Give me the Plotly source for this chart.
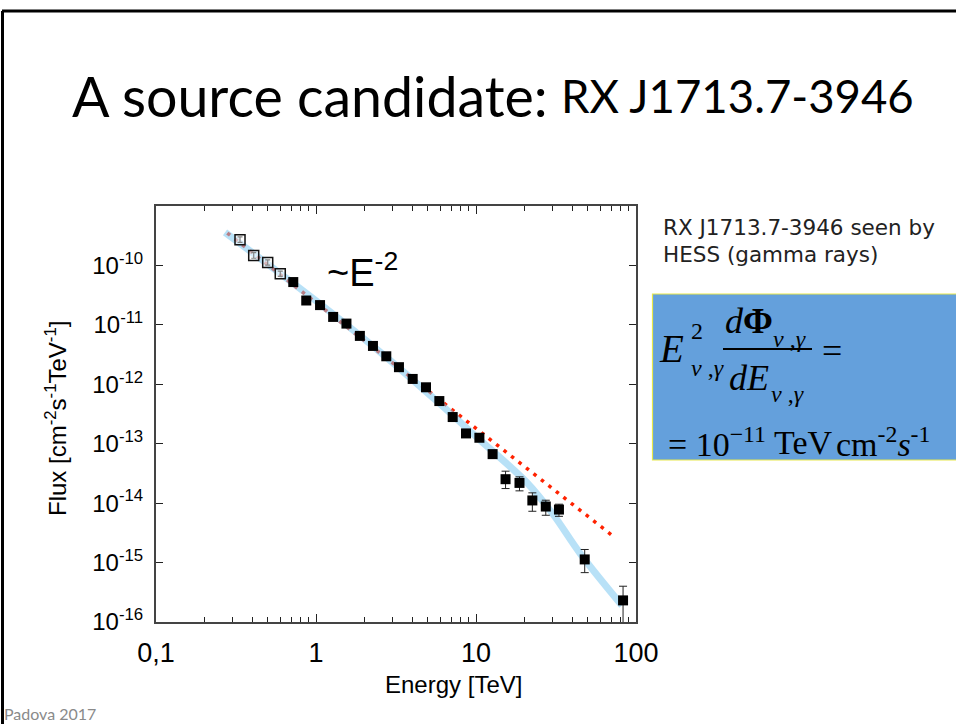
import plotly.graph_objects as go

W, H = 956, 724

# HESS spectrum of RX J1713.7-3946
energy_open = [0.335, 0.408, 0.499, 0.598]
flux_open = [2.71e-10, 1.47e-10, 1.12e-10, 7.25e-11]
flux_open_hi = [3.02e-10, 1.64e-10, 1.24e-10, 8.0e-11]
flux_open_lo = [2.44e-10, 1.32e-10, 1.01e-10, 6.55e-11]

energy = [0.721, 0.869, 1.06, 1.28, 1.55, 1.88, 2.27, 2.75, 3.30, 4.02, 4.87, 5.90,
          7.15, 8.66, 10.5, 12.7, 15.3, 18.7, 22.5, 27.3, 33.0, 47.8, 83.0]
flux = [5.25e-11, 2.57e-11, 2.15e-11, 1.36e-11, 1.05e-11, 6.52e-12, 4.42e-12, 2.96e-12,
        1.94e-12, 1.23e-12, 8.9e-13, 5.22e-13, 2.81e-13, 1.49e-13, 1.26e-13, 6.68e-14,
        2.53e-14, 2.19e-14, 1.11e-14, 8.77e-15, 7.8e-15, 1.13e-15, 2.31e-16]
flux_hi = [5.6e-11, 2.75e-11, 2.3e-11, 1.45e-11, 1.12e-11, 6.95e-12, 4.7e-12, 3.15e-12,
           2.07e-12, 1.31e-12, 9.5e-13, 5.6e-13, 3.02e-13, 1.62e-13, 1.38e-13, 7.4e-14,
           3.45e-14, 2.77e-14, 1.49e-14, 1.12e-14, 9.6e-15, 1.66e-15, 4.0e-16]
flux_lo = [4.9e-11, 2.4e-11, 2.0e-11, 1.27e-11, 9.8e-12, 6.1e-12, 4.15e-12, 2.78e-12,
           1.82e-12, 1.15e-12, 8.3e-13, 4.86e-13, 2.6e-13, 1.37e-13, 1.15e-13, 6.0e-14,
           1.76e-14, 1.61e-14, 7.3e-15, 6.25e-15, 6.0e-15, 6.77e-16, 6.0e-17]

# E^-2 reference line
line_e2_energy = [0.279, 73.1]
line_e2_flux = [3.51e-10, 2.69e-15]

# fitted spectrum with cutoff
fit_energy = [0.270, 1.0, 2.74, 5.96, 10.1, 20.7, 30.3, 44.7, 81.7]
fit_flux = [3.6e-10, 2.54e-11, 2.88e-12, 4.66e-13, 1.29e-13, 2.25e-14, 6.5e-15, 1.43e-15, 1.9e-16]

x_ticks = [0.1, 1, 10, 100]
x_ticklabels = ["0,1", "1", "10", "100"]
y_ticks = [1e-16, 1e-15, 1e-14, 1e-13, 1e-12, 1e-11, 1e-10]
y_ticklabels = ["10<sup>-16</sup>", "10<sup>-15</sup>", "10<sup>-14</sup>", "10<sup>-13</sup>",
                "10<sup>-12</sup>", "10<sup>-11</sup>", "10<sup>-10</sup>"]
x_minor = [m * 10 ** d for d in (-1, 0, 1) for m in range(2, 10)]


def px(x):
    return x / W


def py(y):
    return 1 - y / H


def err_up(f, hi):
    return [h - v for v, h in zip(f, hi)]


def err_dn(f, lo):
    return [v - l for v, l in zip(f, lo)]


fig = go.Figure()

fig.add_trace(go.Scatter(
    x=line_e2_energy, y=line_e2_flux, mode="lines",
    line=dict(color="#ff2200", width=3.5, dash="3.5px,6px"), hoverinfo="skip"))

fig.add_trace(go.Scatter(
    x=fit_energy, y=fit_flux, mode="lines", line_shape="spline",
    line=dict(color="rgba(125,200,240,0.55)", width=7), hoverinfo="skip"))

fig.add_trace(go.Scatter(
    x=energy_open, y=flux_open, mode="markers",
    marker=dict(symbol="square", size=10, color="rgba(255,255,255,0.45)",
                line=dict(color="#111", width=1.5)),
    error_y=dict(type="data", array=err_up(flux_open, flux_open_hi),
                 arrayminus=err_dn(flux_open, flux_open_lo),
                 color="#222", thickness=1.2, width=2.5)))

fig.add_trace(go.Scatter(
    x=energy, y=flux, mode="markers",
    marker=dict(symbol="square", size=10, color="black", line=dict(width=0)),
    error_y=dict(type="data", array=err_up(flux, flux_hi),
                 arrayminus=err_dn(flux, flux_lo),
                 color="#222", thickness=1, width=4)))

ann = []


def text(x, y, s, size, family="Liberation Sans", color="black", xanchor="left",
         yanchor="middle", angle=0):
    ann.append(dict(x=px(x), y=py(y), xref="paper", yref="paper", text=s, showarrow=False,
                    xanchor=xanchor, yanchor=yanchor, textangle=angle,
                    font=dict(size=size, family=family, color=color)))


# slide title and side notes
text(70, 95, "A source candidate:", 55.5, family="Lato")
text(559, 95, "RX J1713.7-3946", 45.5, family="Lato")
text(661, 228, "RX J1713.7-3946 seen by", 21.5, family="DejaVu Sans", color="#222")
text(661, 254, "HESS (gamma rays)", 21.5, family="DejaVu Sans", color="#222")
text(2, 713, "Padova 2017", 16, family="Lato", color="#8a8a8a")

# axis titles and slope label
text(453, 684, "Energy [TeV]", 24, xanchor="center")
text(56, 419, "Flux [cm<sup>-2</sup>s<sup>-1</sup>TeV<sup>-1</sup>]", 24, xanchor="center", angle=-90)
text(325, 270, "~E<sup>-2</sup>", 38)

# formula box contents
serif = "Liberation Serif"
text(657, 348, "<i>E</i>", 39, family=serif)
text(689, 331, "2", 24, family=serif)
text(689, 368, "<i>ν</i> ,<i>γ</i>", 24, family=serif)
text(723, 321, "<i>d</i><b>Φ</b>", 36, family=serif)
text(771, 339, "<i>ν</i> ,<i>γ</i>", 24, family=serif)
text(727, 378, "<i>dE</i>", 36, family=serif)
text(769, 394, "<i>ν</i> ,<i>γ</i>", 24, family=serif)
text(820, 351, "=", 36, family=serif)
text(666, 442, "= 10<sup>−11</sup>", 34, family=serif)
text(772, 442, "TeV", 34, family=serif)
text(834, 442, "cm<sup>-2</sup><i>s</i><sup>-1</sup>", 34, family=serif)

shapes = [
    # slide frame
    dict(type="line", xref="paper", yref="paper", x0=px(2), x1=px(W + 10), y0=py(11), y1=py(11),
         line=dict(color="black", width=3)),
    dict(type="line", xref="paper", yref="paper", x0=px(2.5), x1=px(2.5), y0=py(11), y1=py(H + 10),
         line=dict(color="black", width=3)),
    # formula box
    dict(type="rect", xref="paper", yref="paper", x0=px(652.5), x1=px(W + 20), y0=py(460), y1=py(294),
         fillcolor="#64a0dc", line=dict(color="#e8e84a", width=1.2), layer="below"),
    # fraction bar
    dict(type="line", xref="paper", yref="paper", x0=px(723), x1=px(812), y0=py(349), y1=py(349),
         line=dict(color="black", width=2)),
]

axis_common = dict(showgrid=False, zeroline=False, showline=True, linecolor="#444", linewidth=2,
                   mirror="allticks", ticks="inside", tickcolor="#222", tickwidth=1.2)

fig.update_layout(
    width=W, height=H, margin=dict(l=0, r=0, t=0, b=0),
    paper_bgcolor="white", plot_bgcolor="white", showlegend=False,
    annotations=ann, shapes=shapes,
    xaxis=dict(type="log", range=[-1, 2], domain=[px(156), px(636)], automargin=False,
               tickvals=x_ticks, ticktext=x_ticklabels, ticklen=8, ticklabelstandoff=6,
               tickfont=dict(family="Liberation Sans", size=27, color="black"),
               minor=dict(tickvals=x_minor, ticks="inside", ticklen=5, tickcolor="#222"),
               **axis_common),
    yaxis=dict(type="log", range=[-16, -9], domain=[py(622), py(206)], automargin=False,
               tickvals=y_ticks, ticktext=y_ticklabels, ticklen=7, ticklabelstandoff=6,
               tickfont=dict(family="Liberation Sans", size=24, color="black"),
               **axis_common),
)

fig.write_html("out.html")
